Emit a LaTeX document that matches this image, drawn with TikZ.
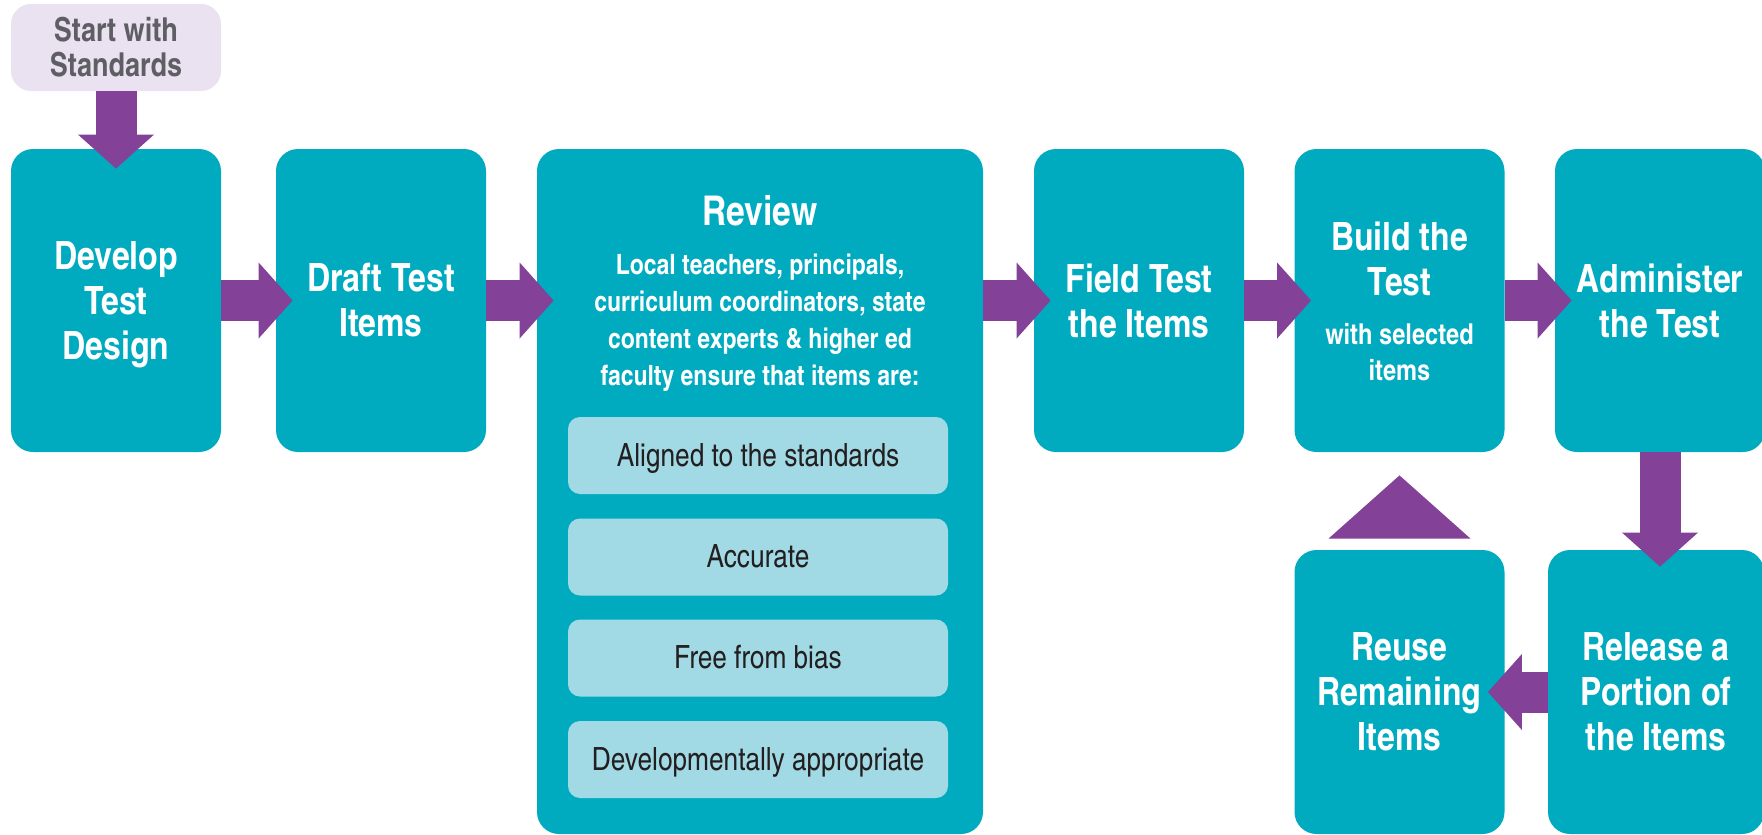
\documentclass[tikz,border=0pt]{standalone}
\usepackage{fontspec}
\setmainfont{TeX Gyre Heros Cn}
\usetikzlibrary{arrows.meta}

\definecolor{stepteal}{RGB}{0,171,192}
\definecolor{flowpurple}{RGB}{131,65,151}
\definecolor{optblue}{RGB}{161,218,229}
\definecolor{optdark}{RGB}{35,31,32}
\definecolor{startlav}{RGB}{234,226,240}
\definecolor{startgray}{RGB}{94,94,100}

\tikzset{
  stepbox/.style={fill=stepteal, rounded corners=11pt, minimum width=105pt, minimum height=151.5pt,
    inner sep=0pt, text=white, align=center, font=\bfseries\fontsize{19.5}{22.5}\selectfont},
  steptext/.style={inner sep=0pt, text=white, align=center, font=\bfseries\fontsize{19.5}{22.5}\selectfont},
  subtext/.style={inner sep=0pt, text=white, align=center, font=\bfseries\fontsize{14}{18.5}\selectfont},
  startbox/.style={fill=startlav, rounded corners=10pt, minimum width=105pt, minimum height=43.5pt,
    inner sep=0pt, text=startgray, align=center, font=\bfseries\fontsize{16.5}{17.5}\selectfont},
  optbox/.style={fill=optblue, rounded corners=6pt, minimum width=190pt, minimum height=38.5pt,
    inner sep=0pt, text height=12pt, text depth=1.5pt, text=optdark, font=\fontsize{16}{18}\selectfont},
  flow/.style={draw=flowpurple, line width=20.5pt, -{Triangle[length=17pt, width=38pt, line width=0pt]},
    shorten >=-8.5pt},
}

\begin{document}
\begin{tikzpicture}[x=0.5pt,y=0.5pt,yscale=-1,xscale=1]
\useasboundingbox (0,0) rectangle (1762,835);

% Start
\draw (116,47.5) node [startbox] (start) {Start with\\Standards};

% Steps, top row
\draw (116,300.5)  node [stepbox] (dev)   {Develop\\Test\\\raisebox{0pt}[\height][0pt]{Design}};
\draw (381,300.5)  node [stepbox] (draft) {Draft Test\\Items};
\draw (760,491.5)  node [stepbox, minimum width=223pt, minimum height=342.5pt] (review) {};
\draw (1139,300.5) node [stepbox] (field) {Field Test\\the Items};
\draw (1399.5,300.5) node [stepbox] (build) {};
\draw (1660,300.5) node [stepbox] (admin) {Administer\\the Test};

% Steps, bottom row
\draw (1399.5,692) node [stepbox, minimum height=142pt] (reuse)   {Reuse\\Remaining\\Items};
\draw (1656,692)   node [stepbox, minimum width=108pt, minimum height=142pt] (release) {Release a\\Portion of\\the Items};

% Review contents
\draw (760,225) node [steptext, anchor=base, font=\bfseries\fontsize{20.5}{22.5}\selectfont] (revtitle) {Review};
\draw (760,323) node [subtext] (revtext) {Local teachers, principals,\\curriculum coordinators, state\\content experts \& higher ed\\faculty ensure that items are:};
\draw (758,455.5) node [optbox] (opt1) {Aligned to the standards};
\draw (758,557)   node [optbox] (opt2) {Accurate};
\draw (758,658)   node [optbox] (opt3) {Free from bias};
\draw (758,759.5) node [optbox] (opt4) {Developmentally appropriate};

% Build contents
\draw (1399.5,258.5) node [steptext] (buildtop) {Build the\\Test};
\draw (1399.5,352)   node [subtext, font=\bfseries\fontsize{14.4}{18}\selectfont] (buildsub) {with selected\\items};

% Arrows
\draw [flow, shorten >=-10pt] (start) -- (dev);
\draw [flow] (dev) -- (draft);
\draw [flow] (draft) -- (draft -| review.west);
\draw [flow] (review.east |- field) -- (field);
\draw [flow] (field) -- (build);
\draw [flow] (build) -- (admin);
\draw [flow] (admin.south) -- (admin.south |- release.north);
\draw [flow] (release) -- (reuse);
\fill [flowpurple] ([shift={(-71,-11)}]reuse.north) -- ([shift={(71,-11)}]reuse.north) -- ([shift={(0,23)}]build.south) -- cycle;

\end{tikzpicture}
\end{document}
